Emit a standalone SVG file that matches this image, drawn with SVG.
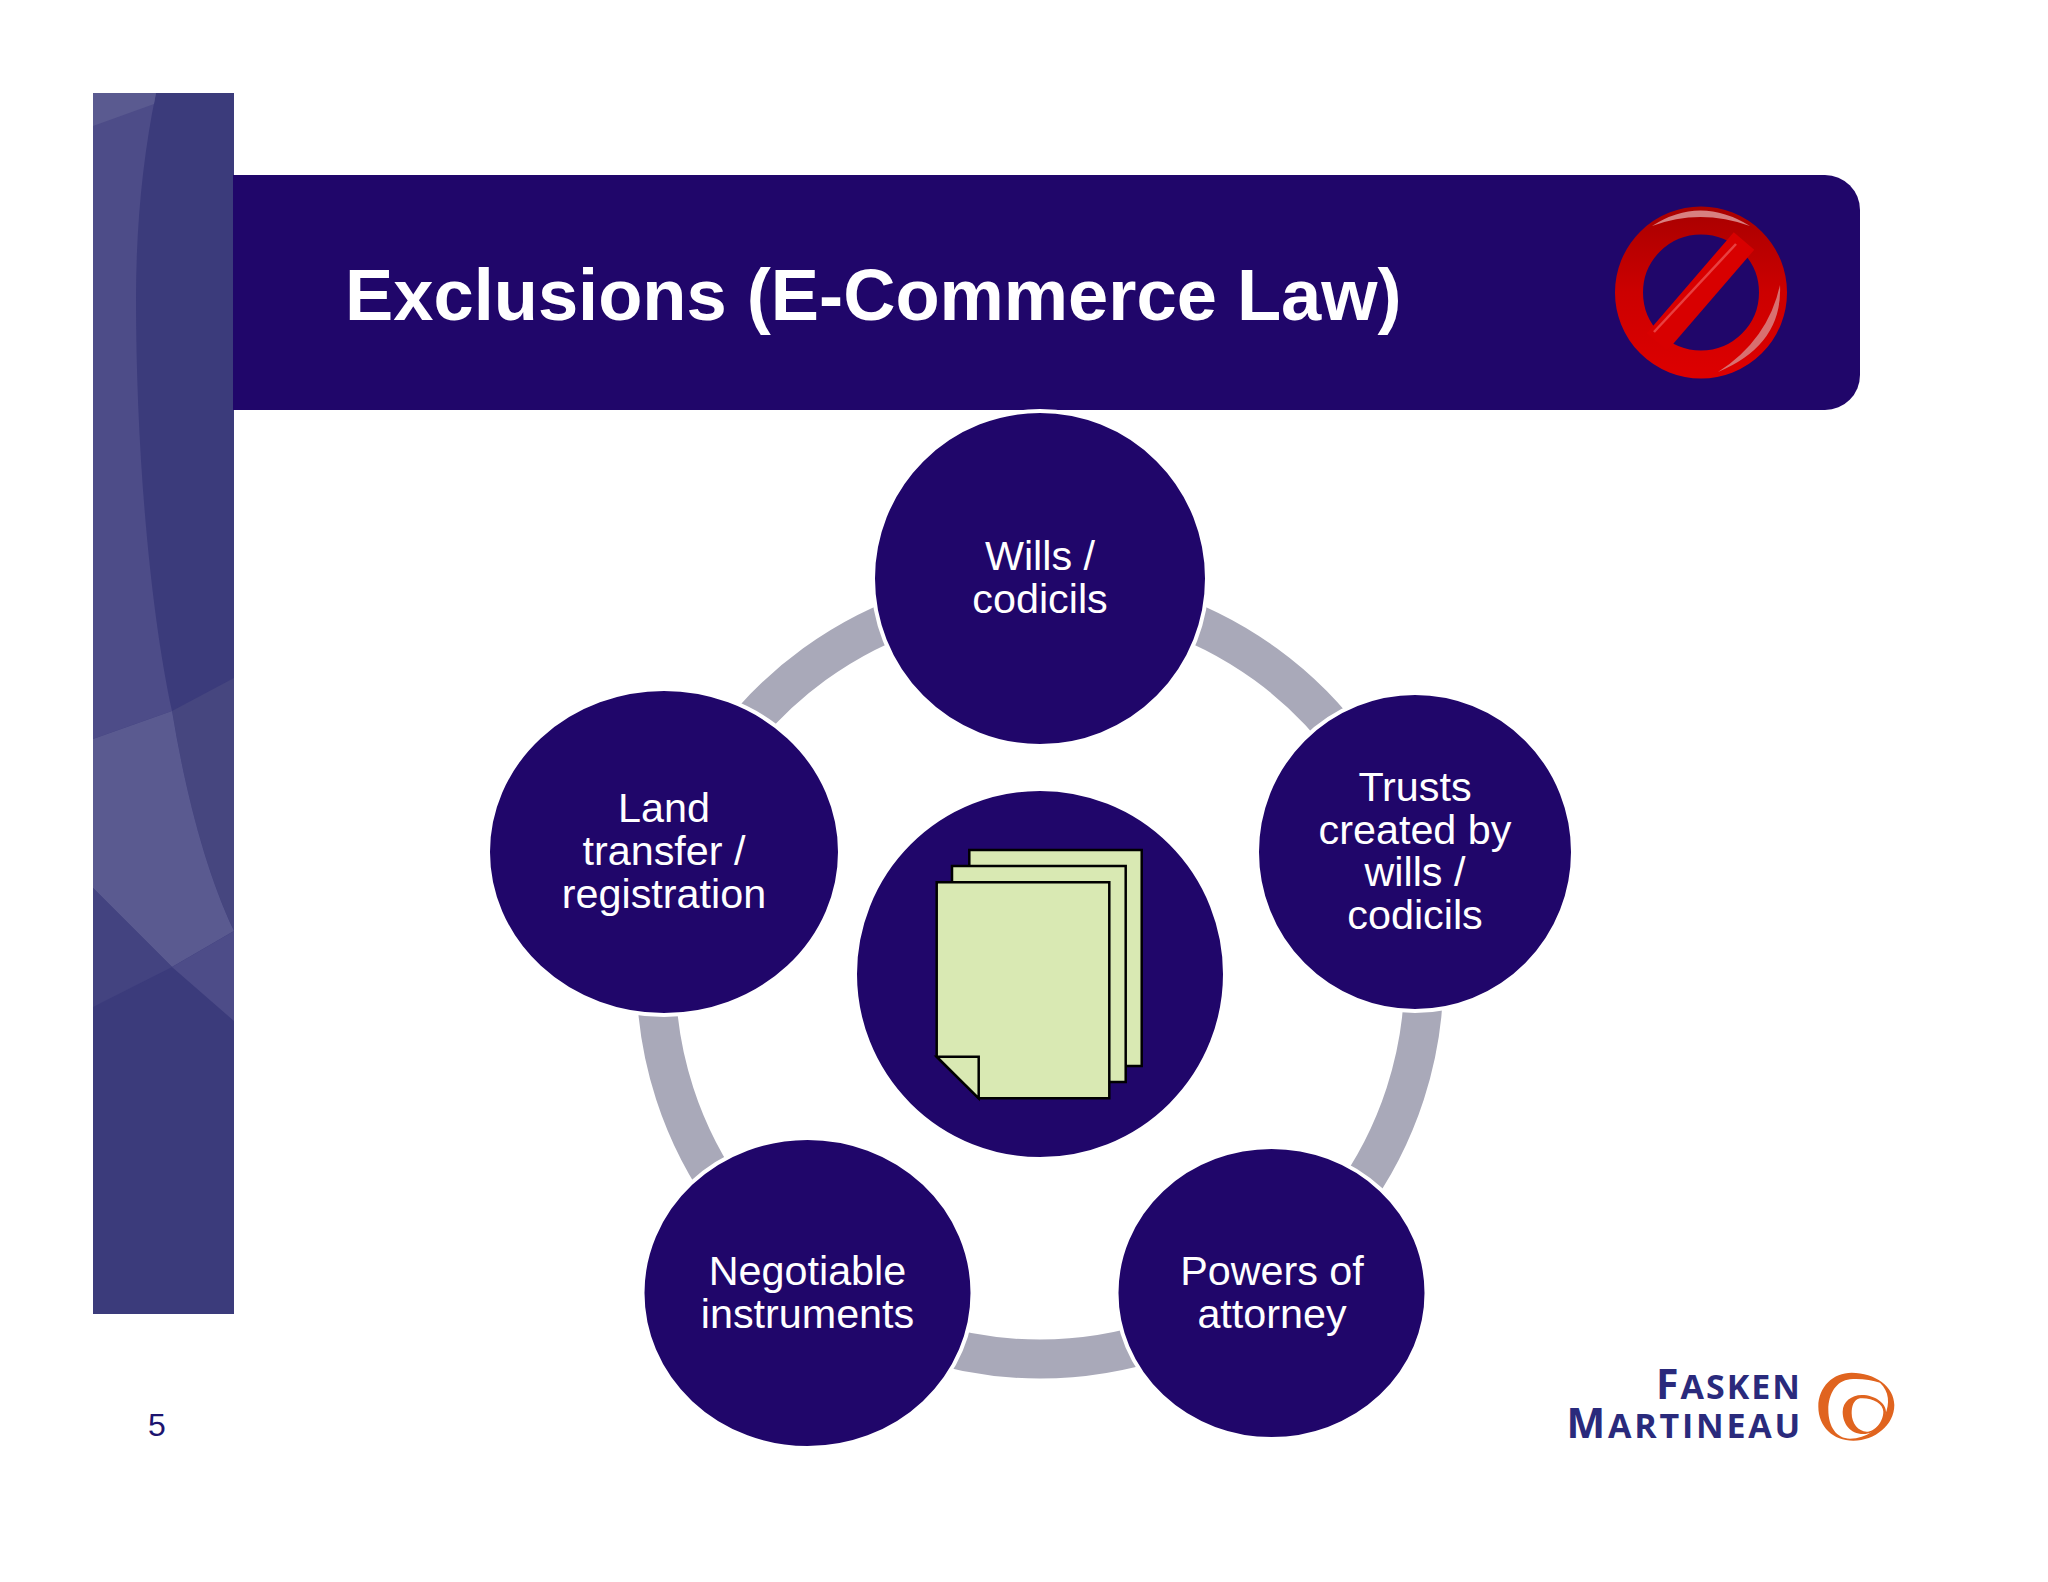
<svg xmlns="http://www.w3.org/2000/svg" width="2048" height="1582" viewBox="0 0 2048 1582">
<defs>
<linearGradient id="red" gradientUnits="userSpaceOnUse" x1="0" y1="207" x2="0" y2="378"><stop offset="0" stop-color="#a80000"/><stop offset="0.5" stop-color="#cc0000"/><stop offset="1" stop-color="#dd0000"/></linearGradient>
<style>
.node{fill:#20066a;stroke:#fff;stroke-width:4}
.lbl{font-family:"Liberation Sans",Arial,sans-serif;font-size:41.3px;fill:#fff;text-anchor:middle}
.arc{fill:none;stroke:#a9a9b9;stroke-width:39}
.doc{fill:#d9e9b3;stroke:#000;stroke-width:2.5}
.logo{font-family:"Open Sans",sans-serif;font-weight:700;fill:#2a2a7c;text-anchor:end}
</style>
</defs>
<rect width="2048" height="1582" fill="#fff"/>
<g id="sidebar">
<rect x="93" y="93" width="141" height="1221" fill="#3b3b7b"/>
<path d="M156 93Q136 190 136 299C136 450 150 610 172 711L93 739V93Z" fill="#4d4c88"/>
<path d="M93 93H156L154 104L93 126Z" fill="#5a5a90"/>
<path d="M172 711L234 678V931C205 870 185 790 172 711Z" fill="#46467f"/>
<path d="M93 739L172 711C185 790 205 870 234 931L172 967L93 888Z" fill="#5a5a90"/>
<path d="M172 967L234 931V1021Z" fill="#4d4c88"/>
<path d="M93 888L172 967L93 1007Z" fill="#434380"/>
</g>
<g id="banner">
<path d="M233 175H1825A35 35 0 0 1 1860 210V375A35 35 0 0 1 1825 410H233Z" fill="#20066a"/>
<text x="345" y="320" font-family="Liberation Sans,Arial,sans-serif" font-weight="700" font-size="72.300" fill="#fff">Exclusions (E-Commerce Law)</text>
</g>
<g id="no-sign">
<circle cx="1701" cy="292.500" r="72" fill="none" stroke="url(#red)" stroke-width="28"/>
<line x1="1657" y1="342" x2="1744" y2="241" stroke="#d80000" stroke-width="27"/>
<line x1="1654" y1="332" x2="1736" y2="244" stroke="#e84040" stroke-width="2.500"/>
<path d="M1652 226Q1700 195 1750 226Q1700 208 1652 226Z" fill="#d88080"/>
<path d="M1780 285Q1783 345 1718 372Q1768 340 1780 285Z" fill="#d87070"/>
</g>
<g id="connectors">
<path class="arc" d="M1040 591A384 384 0 0 1 1405.200 856.300"/>
<path class="arc" d="M1405.200 856.300A384 384 0 0 1 1265.700 1285.700"/>
<path class="arc" d="M1265.700 1285.700A384 384 0 0 1 814.300 1285.700"/>
<path class="arc" d="M814.300 1285.700A384 384 0 0 1 674.800 856.300"/>
<path class="arc" d="M674.800 856.300A384 384 0 0 1 1040 591"/>
</g>
<g id="node-center">
<circle class="node" cx="1040" cy="974" r="185"/>
<path class="doc" d="M969.300 900V850H1141.700V1066H1120"/>
<path class="doc" d="M952 900V866H1125.700V1082H1105"/>
<path class="doc" d="M936.700 882.300H1109.300V1098.300H978.700L936.700 1056.700Z"/>
<path class="doc" d="M936.700 1056.700H978.700V1098.300Z"/>
</g>
<g id="node-wills">
<ellipse class="node" cx="1040" cy="578.500" rx="167" ry="167.500"/>
<text class="lbl" x="1040" y="570">Wills /</text><text class="lbl" x="1040" y="613">codicils</text>
</g>
<g id="node-trusts">
<ellipse class="node" cx="1415" cy="852" rx="158" ry="159"/>
<text class="lbl" x="1415" y="801">Trusts</text><text class="lbl" x="1415" y="844">created by</text><text class="lbl" x="1415" y="886">wills /</text><text class="lbl" x="1415" y="929">codicils</text>
</g>
<g id="node-powers">
<ellipse class="node" cx="1271.500" cy="1293" rx="155" ry="146"/>
<text class="lbl" x="1272" y="1285">Powers of</text><text class="lbl" x="1272" y="1328">attorney</text>
</g>
<g id="node-negotiable">
<ellipse class="node" cx="807.500" cy="1293" rx="165" ry="155"/>
<text class="lbl" x="807.500" y="1285">Negotiable</text><text class="lbl" x="807.500" y="1328">instruments</text>
</g>
<g id="node-land">
<ellipse class="node" cx="664" cy="852" rx="176" ry="163"/>
<text class="lbl" x="664" y="822">Land</text><text class="lbl" x="664" y="865">transfer /</text><text class="lbl" x="664" y="908">registration</text>
</g>
<text id="page-number" x="157" y="1436" font-family="Liberation Sans,Arial,sans-serif" font-size="32" fill="#1d1470" text-anchor="middle">5</text>
<g id="logo">
<text class="logo" x="1802" y="1399" font-size="34" letter-spacing="2"><tspan font-size="41">F</tspan>ASKEN</text>
<text class="logo" x="1803" y="1438" font-size="34" letter-spacing="2.800"><tspan font-size="41">M</tspan>ARTINEAU</text>
<path transform="translate(1800 1360) scale(0.3333)" fill-rule="evenodd" fill="#e0641f" d="M155 38C225 38 283 80 283 135C283 195 225 242 160 242C100 242 55 200 55 140C55 80 100 38 155 38ZM150 58C110 62 85 100 85 150C85 200 110 236 150 236C200 236 240 205 255 165C270 130 268 95 240 68C215 60 180 55 150 58Z"/>
<path transform="translate(1800 1360) scale(0.3333)" fill-rule="evenodd" fill="#e0641f" d="M185 105C225 105 258 130 258 155C258 190 225 222 190 222C150 222 128 190 128 155C128 125 155 105 185 105ZM180 115C160 120 155 140 155 160C155 190 175 215 200 215C225 215 250 185 250 155C250 130 215 112 180 115Z"/>
</g>
</svg>
